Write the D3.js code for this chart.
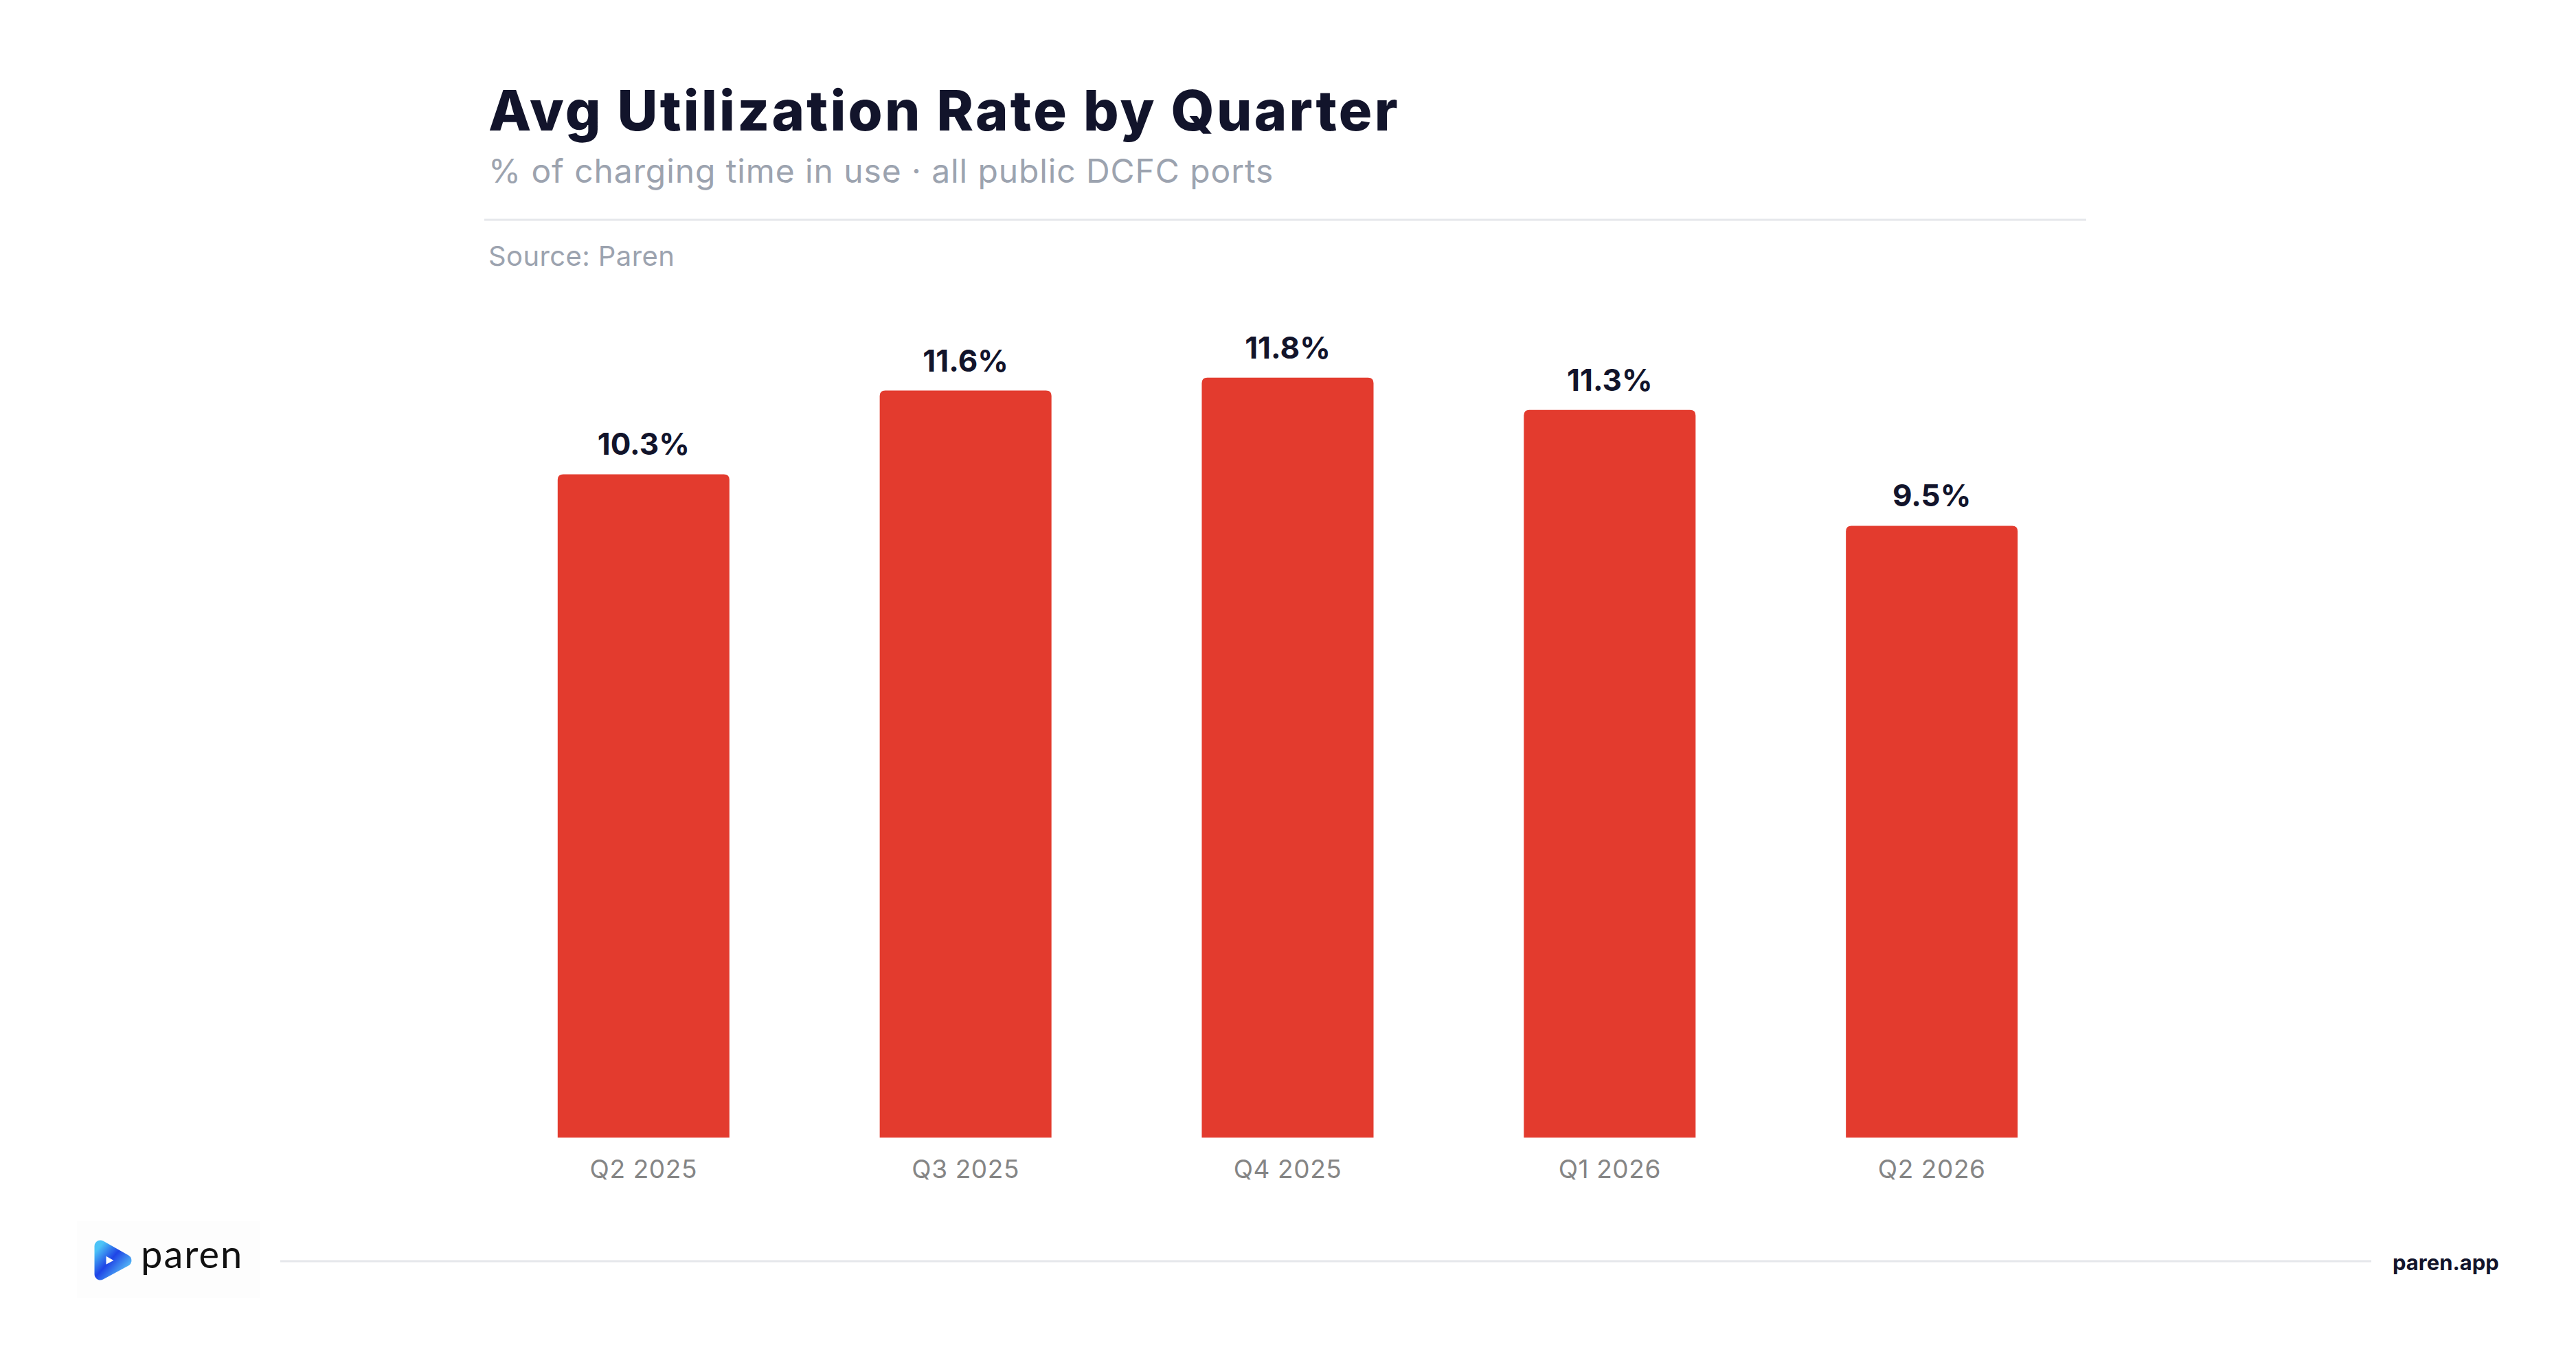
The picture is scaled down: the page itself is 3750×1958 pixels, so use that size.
<!DOCTYPE html>
<html>
<head>
<meta charset="utf-8">
<script src="https://cdn.jsdelivr.net/npm/d3@7"></script>
<style>
  body { margin: 0; background: #fff; }
  svg { display: block; }
</style>
</head>
<body>
<svg id="chart" width="3750" height="1958"></svg>
<script>
// data
var quarters = ["Q2 2025", "Q3 2025", "Q4 2025", "Q1 2026", "Q2 2026"];
var utilization = [10.3, 11.6, 11.8, 11.3, 9.5];

var titleText = "Avg Utilization Rate by Quarter";
var subtitleText = "% of charging time in use \u00b7 all public DCFC ports";
var sourceText = "Source: Paren";

var svg = d3.select("#chart"),
    width = +svg.attr("width"),
    height = +svg.attr("height");

var barColor = "#e33b2e";

// header
svg.append("text")
    .attr("x", 711).attr("y", 190)
    .attr("font-family", "Inter, sans-serif")
    .attr("font-weight", 800)
    .attr("font-size", 81)
    .attr("letter-spacing", 3.2)
    .attr("fill", "#12142b")
    .text(titleText);

svg.append("text")
    .attr("x", 711).attr("y", 266)
    .attr("font-family", "Inter, sans-serif")
    .attr("font-size", 48)
    .attr("letter-spacing", 0.9)
    .attr("fill", "#9ca3af")
    .text(subtitleText);

svg.append("line")
    .attr("x1", 705).attr("x2", 3037)
    .attr("y1", 320).attr("y2", 320)
    .attr("stroke", "#e5e7eb").attr("stroke-width", 3);

svg.append("text")
    .attr("x", 711).attr("y", 387)
    .attr("font-family", "Inter, sans-serif")
    .attr("font-size", 40)
    .attr("letter-spacing", 0.4)
    .attr("fill", "#9ca3af")
    .text(sourceText);

// scales
var x = d3.scaleBand()
    .domain(quarters)
    .range([593, 3156])
    .padding(0.4667);

var y = d3.scaleLinear()
    .domain([0, 12.8])
    .range([1656, 456]);

var r = 8;
function barPath(d, i) {
    var x0 = x(quarters[i]), w = x.bandwidth(), y0 = y(d), y1 = y(0);
    return "M" + x0 + "," + y1 +
        "V" + (y0 + r) +
        "Q" + x0 + "," + y0 + " " + (x0 + r) + "," + y0 +
        "H" + (x0 + w - r) +
        "Q" + (x0 + w) + "," + y0 + " " + (x0 + w) + "," + (y0 + r) +
        "V" + y1 + "Z";
}

svg.append("g").selectAll("path")
    .data(utilization)
    .enter().append("path")
    .attr("d", barPath)
    .attr("fill", barColor);

// value labels
svg.append("g").selectAll("text")
    .data(utilization)
    .enter().append("text")
    .attr("x", function (d, i) { return x(quarters[i]) + x.bandwidth() / 2; })
    .attr("y", function (d) { return y(d) - 28; })
    .attr("text-anchor", "middle")
    .attr("font-family", "Inter, sans-serif")
    .attr("font-weight", 700)
    .attr("font-size", 44)
    .attr("fill", "#12142b")
    .text(function (d) { return d.toFixed(1) + "%"; });

// x axis
var xAxis = svg.append("g")
    .attr("transform", "translate(0," + y(0) + ")")
    .call(d3.axisBottom(x).tickSize(0).tickPadding(33));
xAxis.select(".domain").remove();
xAxis.selectAll("text")
    .attr("font-family", "Inter, sans-serif")
    .attr("font-size", 37)
    .attr("letter-spacing", 0.6)
    .attr("fill", "#858585");

// footer
svg.append("rect")
    .attr("x", 112).attr("y", 1778)
    .attr("width", 266).attr("height", 112)
    .attr("fill", "#fdfdfd");

var defs = svg.append("defs");
var grad = defs.append("linearGradient")
    .attr("id", "logoGrad")
    .attr("x1", "0%").attr("y1", "0%")
    .attr("x2", "100%").attr("y2", "100%");
grad.append("stop").attr("offset", "0%").attr("stop-color", "#4cc3f7");
grad.append("stop").attr("offset", "45%").attr("stop-color", "#1f44e6");
grad.append("stop").attr("offset", "100%").attr("stop-color", "#5bc9f8");

svg.append("path")
    .attr("d", "M146,1814 L183,1835 L146,1855 Z")
    .attr("fill", "none")
    .attr("stroke", "url(#logoGrad)")
    .attr("stroke-width", 17)
    .attr("stroke-linejoin", "round");

svg.append("text")
    .attr("x", 205).attr("y", 1846)
    .attr("font-family", "Lato, sans-serif")
    .attr("font-size", 56)
    .attr("letter-spacing", 2)
    .attr("fill", "#111")
    .text("paren");

svg.append("line")
    .attr("x1", 408).attr("x2", 3452)
    .attr("y1", 1836).attr("y2", 1836)
    .attr("stroke", "#e5e7eb").attr("stroke-width", 3);

svg.append("text")
    .attr("x", 3483).attr("y", 1849)
    .attr("font-family", "Inter, sans-serif")
    .attr("font-weight", 700)
    .attr("font-size", 31)
    .attr("fill", "#12142b")
    .text("paren.app");
</script>
</body>
</html>
